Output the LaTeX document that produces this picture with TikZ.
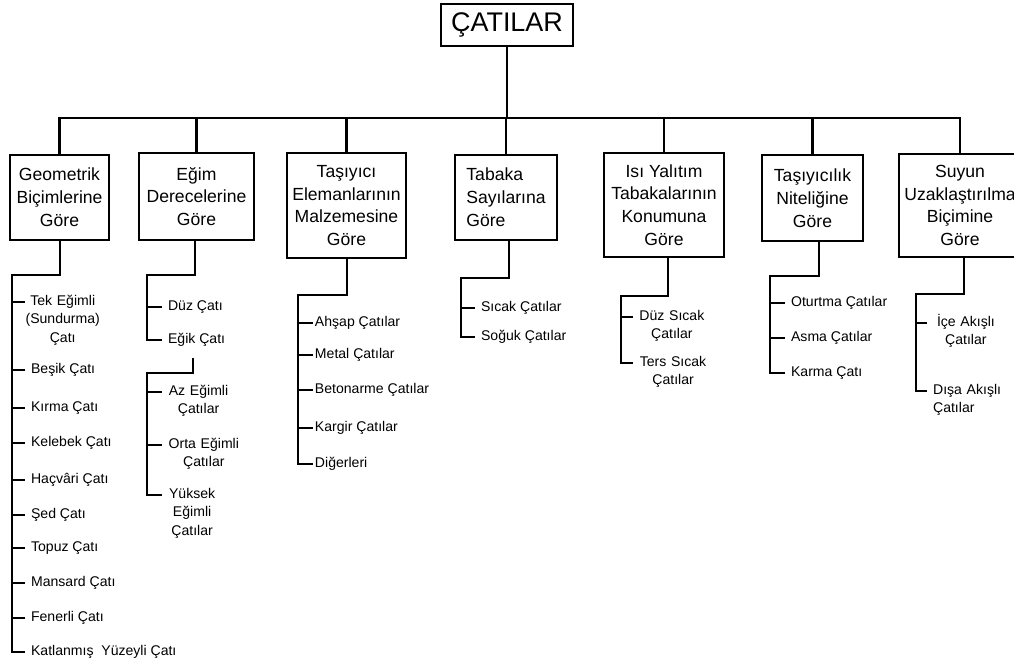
\documentclass[tikz,border=0pt]{standalone}
\usepackage{fontspec}
\setmainfont{Liberation Sans}

\begin{document}
\begin{tikzpicture}[x=0.03cm, y=-0.03cm]
\tikzset{kutu/.style={draw, line width=2.4pt, inner sep=0pt, align=center, font=\fontsize{15}{19.5}\selectfont},
  yaprak/.style={anchor=mid west, inner xsep=5pt, inner ysep=0pt, font=\fontsize{12}{16}\selectfont},
  bag/.style={line width=2.2pt}}
\clip (0,0) rectangle (1014,668);
\node[kutu, line width=2.2pt, minimum width=3.96cm, minimum height=1.26cm, font=\fontsize{23}{27}\selectfont] (catilar) at (507,25) {ÇATILAR};
\node[kutu, minimum width=2.97cm, minimum height=2.55cm] (geo) at (59.5,197.5) {Geometrik\\Biçimlerine\\Göre};
\node[kutu, minimum width=3.45cm, minimum height=2.61cm] (egim) at (196.5,196.5) {Eğim\\Derecelerine\\Göre};
\node[kutu, minimum width=3.57cm, minimum height=3.15cm] (mal) at (346.5,205.5) {Taşıyıcı\\Elemanlarının\\Malzemesine\\Göre};
\node[kutu, minimum width=3.06cm, minimum height=2.55cm, align=left] (tab) at (506,197.5) {Tabaka\\Sayılarına\\Göre};
\node[kutu, minimum width=3.6cm, minimum height=3.12cm] (isi) at (664,205) {Isı Yalıtım\\Tabakalarının\\Konumuna\\Göre};
\node[kutu, minimum width=3.03cm, minimum height=2.58cm] (nit) at (812.5,198) {Taşıyıcılık\\Niteliğine\\Göre};
\node[kutu, minimum width=3.66cm, minimum height=3.09cm] (suy) at (960,205.5) {Suyun\\Uzaklaştırılma\\Biçimine\\Göre};
\coordinate (bar) at (507,118);
\draw[line width=1.2pt] (catilar.south) -- (bar);
\draw[bag] (geo.north) |- (bar) -| (suy.north);
\foreach \b in {egim,mal,tab,isi,nit}
  \draw[bag] (\b.north) -- (\b.north |- bar);

\coordinate (t1) at (60,275);
\coordinate (s1) at (12,275);
\node[yaprak, align=center, text width=64pt, inner xsep=0pt] (geo1) at (25,302) {Tek Eğimli\\(Sundurma)\\Çatı};
\node[yaprak] (geo2) at (25,370) {Beşik Çatı};
\node[yaprak] (geo3) at (25,408) {Kırma Çatı};
\node[yaprak] (geo4) at (25,443) {Kelebek Çatı};
\node[yaprak] (geo5) at (25,480) {Haçvâri Çatı};
\node[yaprak] (geo6) at (25,515) {Şed Çatı};
\node[yaprak] (geo7) at (25,548) {Topuz Çatı};
\node[yaprak] (geo8) at (25,583) {Mansard Çatı};
\node[yaprak] (geo9) at (25,618) {Fenerli Çatı};
\node[yaprak] (geo10) at (25,652) {Katlanmış\ \ Yüzeyli Çatı};
\draw[bag] (geo.south -| t1) -- (t1) -- (s1) |- (geo10.mid west);
\foreach \i in {1,...,9}
  \draw[bag] (s1 |- geo\i.mid west) -- (geo\i.mid west);

\coordinate (t2) at (195,275);
\coordinate (s2) at (147,275);
\node[yaprak] (egim1) at (162,307) {Düz Çatı};
\node[yaprak] (egim2) at (162,340) {Eğik Çatı};
\draw[bag] (egim.south -| t2) -- (t2) -- (s2) |- (egim2.mid west);
\draw[bag] (s2 |- egim1.mid west) -- (egim1.mid west);
\coordinate (t2b) at (193,373);
\coordinate (s2b) at (147,373);
\node[yaprak, align=center, text width=52pt] (egim3) at (162,392) {Az Eğimli\\Çatılar};
\node[yaprak, align=center, text width=61pt] (egim4) at (162,445) {Orta Eğimli\\Çatılar};
\node[yaprak, align=center, text width=41pt] (egim5) at (162,495) {Yüksek\\Eğimli\\Çatılar};
\draw[bag, shorten <=10pt] (egim2.south -| t2b) -- (t2b) -- (s2b) |- (egim5.mid west);
\foreach \i in {3,4}
  \draw[bag] (s2b |- egim\i.mid west) -- (egim\i.mid west);

\coordinate (t3) at (347,295);
\coordinate (s3) at (298,295);
\node[yaprak, inner xsep=1.5pt] (mal1) at (313,323) {Ahşap Çatılar};
\node[yaprak, inner xsep=1.5pt] (mal2) at (313,355) {Metal Çatılar};
\node[yaprak, inner xsep=1.5pt] (mal3) at (313,390) {Betonarme Çatılar};
\node[yaprak, inner xsep=1.5pt] (mal4) at (313,428) {Kargir Çatılar};
\node[yaprak, inner xsep=1.5pt] (mal5) at (313,464) {Diğerleri};
\draw[bag] (mal.south -| t3) -- (t3) -- (s3) |- (mal5.mid west);
\foreach \i in {1,...,4}
  \draw[bag] (s3 |- mal\i.mid west) -- (mal\i.mid west);

\coordinate (t4) at (509,278);
\coordinate (s4) at (461,278);
\node[yaprak] (tab1) at (475,308) {Sıcak Çatılar};
\node[yaprak] (tab2) at (475,337) {Soğuk Çatılar};
\draw[bag] (tab.south -| t4) -- (t4) -- (s4) |- (tab2.mid west);
\draw[bag] (s4 |- tab1.mid west) -- (tab1.mid west);

\coordinate (t5) at (668,296);
\coordinate (s5) at (621,296);
\node[yaprak, align=center, text width=56pt] (isi1) at (633,317) {Düz Sıcak\\Çatılar};
\node[yaprak, align=center, text width=58pt] (isi2) at (633,363) {Ters Sıcak\\Çatılar};
\draw[bag] (isi.south -| t5) -- (t5) -- (s5) |- (isi2.mid west);
\draw[bag] (s5 |- isi1.mid west) -- (isi1.mid west);

\coordinate (t6) at (819,276);
\coordinate (s6) at (770,276);
\node[yaprak] (nit1) at (785,303) {Oturtma Çatılar};
\node[yaprak] (nit2) at (785,338) {Asma Çatılar};
\node[yaprak] (nit3) at (785,373) {Karma Çatı};
\draw[bag] (nit.south -| t6) -- (t6) -- (s6) |- (nit3.mid west);
\foreach \i in {1,2}
  \draw[bag] (s6 |- nit\i.mid west) -- (nit\i.mid west);

\coordinate (t7) at (964,294);
\coordinate (s7) at (916,294);
\node[yaprak, align=center, text width=56pt] (suy1) at (927,323) {İçe Akışlı\\Çatılar};
\node[yaprak, align=left, text width=62pt] (suy2) at (927,391) {Dışa Akışlı\\Çatılar};
\draw[bag] (suy.south -| t7) -- (t7) -- (s7) |- (suy2.mid west);
\draw[bag] (s7 |- suy1.mid west) -- (suy1.mid west);
\end{tikzpicture}
\end{document}
